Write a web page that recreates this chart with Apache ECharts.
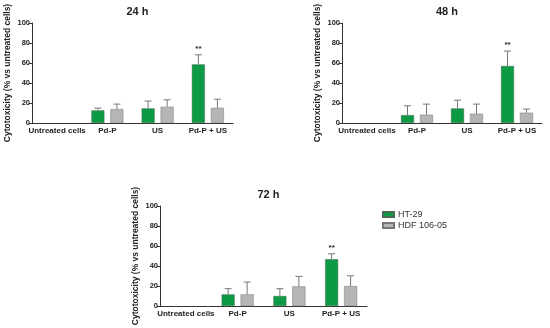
<!DOCTYPE html>
<html><head><meta charset="utf-8">
<script src="https://cdn.jsdelivr.net/npm/echarts@6/dist/echarts.min.js"></script>
<style>html,body{margin:0;padding:0;background:#fff}#c{width:550px;height:328px}</style>
</head><body><div id="c"></div>
<script>
const categories = ['Untreated cells', 'Pd-P', 'US', 'Pd-P + US'];
const yTicks = [0, 20, 40, 60, 80, 100];
const titles = ['24 h', '48 h', '72 h'];
const seriesNames = ['HT-29', 'HDF 106-05'];
// 24 h
const ht29_24 = [0, 12.6, 14.6, 58.6];
const ht29_24_err = [0, 14.9, 21.9, 68.2];
const hdf_24 = [0, 13.9, 16.2, 15.2];
const hdf_24_err = [0, 18.9, 23.2, 23.8];
// 48 h
const ht29_48 = [0, 7.9, 14.6, 57.0];
const ht29_48_err = [0, 17.2, 22.8, 71.9];
const hdf_48 = [0, 8.3, 9.3, 10.3];
const hdf_48_err = [0, 18.9, 18.9, 13.9];
// 72 h
const ht29_72 = [0, 11.6, 10.0, 46.8];
const ht29_72_err = [0, 17.3, 17.3, 52.2];
const hdf_72 = [0, 11.6, 19.6, 19.9];
const hdf_72_err = [0, 23.9, 29.6, 30.2];
// significance marks (on HT-29 bars)
const sig = ['', '', '', '**'];

const panels = [
  {ht: ht29_24, hte: ht29_24_err, hd: hdf_24, hde: hdf_24_err},
  {ht: ht29_48, hte: ht29_48_err, hd: hdf_48, hde: hdf_48_err},
  {ht: ht29_72, hte: ht29_72_err, hd: hdf_72, hde: hdf_72_err}
];
const grids = [
  {left: 32, top: 23, width: 201, height: 100},
  {left: 342, top: 23, width: 200, height: 100},
  {left: 160, top: 206, width: 207, height: 100}
];
const GREEN = '#0c9a45', GRAY = '#b5b5b5';
const font = 'Liberation Sans, Arial, sans-serif';

const option = {
  animation: false,
  textStyle: {fontFamily: font},
  title: grids.map((g, i) => ({
    text: titles[i], left: g.left + g.width / 2, top: g.top - 22, textAlign: 'center',
    textStyle: {fontSize: 11, fontWeight: 'bold', color: '#222', fontFamily: font}
  })),
  legend: {
    data: seriesNames.map(n => ({name: n, icon: 'rect'})), orient: 'vertical', left: 377, top: 205,
    itemWidth: 11, itemHeight: 5, itemGap: 2,
    textStyle: {fontSize: 9, color: '#333', fontFamily: font, padding: [0, 0, 0, -1]}
  },
  grid: grids,
  xAxis: grids.map((g, i) => ({
    type: 'category', gridIndex: i, data: categories,
    axisLine: {lineStyle: {color: '#333', width: 1}},
    axisTick: {alignWithLabel: true, length: 2, lineStyle: {color: '#333'}},
    axisLabel: {fontSize: 8, fontWeight: 'bold', color: '#222', margin: 4, interval: 0}
  })),
  yAxis: grids.map((g, i) => ({
    type: 'value', gridIndex: i, min: 0, max: 100, interval: 20,
    name: 'Cytotoxicity (% vs untreated cells)', nameLocation: 'middle', nameGap: 20,
    nameTextStyle: {fontSize: 8.5, fontWeight: 'bold', color: '#222'},
    axisLine: {show: true, lineStyle: {color: '#333', width: 1}},
    axisTick: {show: true, length: 3, lineStyle: {color: '#333'}},
    splitLine: {show: false},
    axisLabel: {fontSize: 7.5, fontWeight: 'bold', color: '#222', margin: 2,
      formatter: v => yTicks.includes(v) ? String(v) : ''}
  })),
  series: []
};

panels.forEach((p, i) => {
  option.series.push({
    name: seriesNames[0], type: 'bar', xAxisIndex: i, yAxisIndex: i,
    data: p.ht.map(v => v === 0 ? '-' : v),
    barWidth: 13, barGap: '46%',
    itemStyle: {color: GREEN, borderColor: '#4a6a55', borderWidth: 0.5}
  });
  option.series.push({
    name: seriesNames[1], type: 'bar', xAxisIndex: i, yAxisIndex: i,
    data: p.hd.map(v => v === 0 ? '-' : v),
    barWidth: 13, barGap: '46%',
    itemStyle: {color: GRAY, borderColor: '#777', borderWidth: 0.5}
  });
  [[p.ht, p.hte, -1], [p.hd, p.hde, 1]].forEach(([vals, errs, side], k) => {
    option.series.push({
      type: 'custom', xAxisIndex: i, yAxisIndex: i, silent: true, z: 5,
      data: vals.map((v, j) => [j, v, errs[j]]),
      renderItem: (params, api) => {
        const j = api.value(0), v = api.value(1), e = api.value(2);
        const base = api.coord([j, v]);
        const top = api.coord([j, e]);
        const x = base[0] + side * 9.5;
        const children = [];
        if (e > v) {
          children.push({type: 'line', shape: {x1: x, y1: base[1], x2: x, y2: top[1]},
            style: {stroke: '#777', lineWidth: 1}});
          children.push({type: 'line', shape: {x1: x - 3.5, y1: top[1], x2: x + 3.5, y2: top[1]},
            style: {stroke: '#777', lineWidth: 1}});
        }
        if (k === 0 && sig[j]) {
          children.push({type: 'text', style: {text: sig[j], x: x, y: top[1] - 2, align: 'center',
            verticalAlign: 'bottom', fontSize: 8, fontWeight: 'bold', fill: '#222', fontFamily: font}});
        }
        return {type: 'group', children};
      }
    });
  });
});

const chart = echarts.init(document.getElementById('c'), null, {renderer: 'canvas'});
chart.setOption(option);
</script></body></html>
